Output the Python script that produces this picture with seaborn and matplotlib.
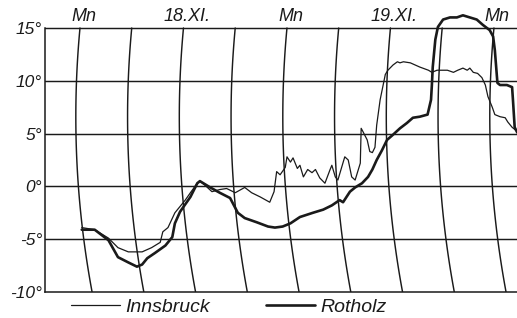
import numpy as np
import pandas as pd
import matplotlib
matplotlib.use("Agg")
import matplotlib.pyplot as plt
import seaborn as sns

# hours after midnight 17./18.XI., temperature in deg C
innsbruck_h = [0.2, 1.7, 3.3, 4.4, 5.6, 7.2, 8.3, 9.3, 9.6, 10.2, 11.0, 11.6, 12.2, 12.8,
               13.6, 13.9, 14.5, 15.3, 16.2, 17.0, 18.0, 19.1, 19.9, 20.9, 22.0, 22.5,
               22.8, 23.2, 23.8, 24.0, 24.4, 24.7, 25.2, 25.5, 25.9, 26.4, 26.9, 27.3,
               27.8, 28.4, 29.0, 29.2, 29.6, 29.9, 30.7, 31.1, 31.5, 31.9, 32.5, 32.6,
               32.8, 33.3, 33.6, 33.9, 34.2, 34.4, 34.8, 35.4, 35.7, 36.3, 36.8, 37.1,
               37.5, 38.3, 39.4, 40.4, 40.8, 41.4, 42.1, 42.6, 43.3, 43.8, 44.4, 44.9,
               45.2, 45.6, 46.1, 46.6, 47.0, 47.3, 47.8, 48.1, 48.7, 49.3, 49.6, 50.1, 50.7]
innsbruck_t = [-3.9, -4.1, -4.9, -5.8, -6.2, -6.2, -5.8, -5.3, -4.3, -3.9, -2.5, -1.9, -1.3, -0.6,
               0.3, 0.5, 0.1, -0.5, -0.3, -0.2, -0.6, -0.1, -0.6, -1.0, -1.5, -0.5,
               1.4, 1.1, 1.8, 2.8, 2.3, 2.7, 1.7, 2.0, 0.9, 1.6, 1.3, 1.6,
               0.8, 0.3, 1.6, 2.0, 0.9, 0.6, 2.8, 2.5, 0.9, 0.6, 2.2, 5.5,
               5.2, 4.4, 3.3, 3.2, 3.7, 5.8, 8.2, 10.6, 11.0, 11.5, 11.8, 11.7,
               11.8, 11.7, 11.3, 11.0, 10.8, 11.0, 11.0, 11.0, 10.8, 11.0, 11.2, 11.0,
               11.2, 10.8, 10.7, 10.3, 9.6, 8.5, 7.5, 6.8, 6.6, 6.5, 6.1, 5.6, 5.2]

rotholz_h = [0.2, 1.7, 3.3, 4.4, 5.6, 6.6, 7.2, 7.8, 8.7, 9.9, 10.7, 11.0, 11.6, 12.8,
             13.6, 13.9, 14.3, 15.1, 16.2, 17.4, 18.3, 19.1, 20.5, 21.8, 22.6, 23.5,
             24.4, 25.5, 27.0, 28.2, 29.2, 30.1, 30.5, 31.3, 31.9, 32.7, 33.4, 33.9,
             34.4, 35.0, 35.6, 36.3, 37.1, 37.9, 38.6, 39.4, 40.3, 40.7, 40.8, 40.9,
             41.2, 41.5, 42.1, 42.9, 43.7, 44.4, 45.2, 46.0, 46.7, 47.5, 47.9, 48.1,
             48.4, 48.7, 49.5, 50.1, 50.2, 50.4, 50.7]
rotholz_t = [-4.1, -4.1, -5.1, -6.7, -7.2, -7.6, -7.4, -6.8, -6.3, -5.6, -4.8, -3.5, -2.4, -1.0,
             0.3, 0.5, 0.3, -0.1, -0.6, -1.1, -2.5, -3.0, -3.4, -3.8, -3.9, -3.8,
             -3.5, -2.9, -2.5, -2.2, -1.8, -1.3, -1.5, -0.5, -0.1, 0.3, 0.9, 1.6,
             2.5, 3.4, 4.4, 4.9, 5.5, 6.0, 6.5, 6.6, 6.8, 8.2, 9.6, 11.3,
             13.9, 15.1, 15.8, 16.0, 16.0, 16.2, 16.0, 15.8, 15.3, 14.8, 14.2, 12.9,
             9.8, 9.6, 9.6, 9.4, 8.2, 5.6, 5.1]

y_ticks = [-10, -5, 0, 5, 10, 15]
y_labels = ["-10°", "-5°", "0°", "5°", "10°", "15°"]
time_hours = [0, 12, 24, 36, 48]
time_labels = ["Mn", "18.XI.", "Mn", "19.XI.", "Mn"]

sns.set_style("white")
plt.rcParams['font.family'] = ['Liberation Sans Narrow', 'Liberation Sans', 'DejaVu Sans']
plt.rcParams['font.style'] = 'italic'

ink = "#1a1a1a"
fig = plt.figure(figsize=(5.17, 3.18), dpi=100)
ax = fig.add_axes([45 / 517, 26 / 318, 472 / 517, 292 / 318])
ax.set_xlim(-4.06, 50.67)
ax.set_ylim(-10, 17.65)

# thermograph paper: curved time lines
tt = np.linspace(-10, 15, 60)
bend = 0.00684 * (tt - 6.6) ** 2 - 0.486
for h in range(0, 49, 6):
    ax.plot(h + bend, tt, color=ink, lw=1.05, zorder=1)
for v in [15, 10, 5, 0, -5]:
    ax.axhline(v, color=ink, lw=1.05, zorder=1)

df_i = pd.DataFrame({"h": innsbruck_h, "t": innsbruck_t})
df_r = pd.DataFrame({"h": rotholz_h, "t": rotholz_t})
sns.lineplot(data=df_i, x="h", y="t", ax=ax, color=ink, lw=0.9, sort=False,
             estimator=None, label="Innsbruck", zorder=3)
sns.lineplot(data=df_r, x="h", y="t", ax=ax, color=ink, lw=1.9, sort=False,
             estimator=None, label="Rotholz", zorder=3)

for s in ["top", "right"]:
    ax.spines[s].set_visible(False)
for s in ["left", "bottom"]:
    ax.spines[s].set_color(ink)
    ax.spines[s].set_linewidth(1.1)
ax.spines["left"].set_bounds(-10, 15)

ax.set_yticks(y_ticks)
ax.set_yticklabels(y_labels, fontsize=12.5, color=ink)
ax.tick_params(axis="y", length=0, pad=2)
ax.set_xticks([])
ax.set_xlabel("")
ax.set_ylabel("")

for h, lab in zip(time_hours, time_labels):
    ax.text(h + 0.4, 16.1, lab, ha="center", va="center", fontsize=13, color=ink)

ax.legend(loc="center left", bbox_to_anchor=(71 / 517, 1 - 307 / 318),
          bbox_transform=fig.transFigure, ncol=2, frameon=False, fontsize=14,
          handlelength=2.5, handletextpad=0.3, columnspacing=2.9,
          borderpad=0, borderaxespad=0, labelcolor=ink)

fig.savefig("out.png", dpi=100, facecolor="white")
